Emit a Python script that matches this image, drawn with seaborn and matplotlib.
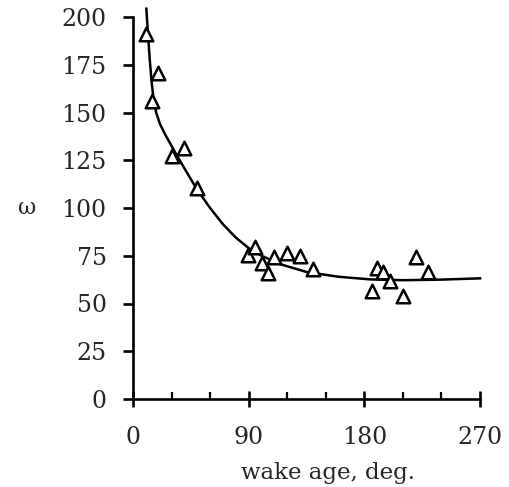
import matplotlib
matplotlib.use("Agg")
import matplotlib.pyplot as plt
import seaborn as sns
import pandas as pd
from matplotlib.ticker import MultipleLocator

# measured data points (wake age in deg, omega)
wake_age = [10.3, 14.5, 19.7, 30, 39.5, 49.5, 89.8, 95, 100, 105.3, 110, 120, 130,
            140.3, 185.7, 189.6, 194.8, 200, 209.9, 220.2, 229.8]
omega = [191, 156, 170.5, 127, 131.3, 110.5, 75.4, 79.7, 71.4, 66.1, 74.5, 76.6, 74.9,
         68, 56.5, 68.4, 66.7, 61.8, 53.9, 74.5, 66.3]

# trend curve
curve_x = [10.3, 11.5, 13, 14.5, 16, 18, 21, 25, 30, 35, 42, 50, 60, 70, 80, 90,
           100, 115, 135, 160, 185, 210, 240, 271]
curve_y = [205, 193, 178, 166, 157, 150, 144, 138.5, 132.5, 126.5, 118.5, 109.5, 100,
           91.5, 84.5, 79, 75, 70.5, 66.5, 64, 62.6, 62.2, 62.5, 63.2]

x_ticks = [0, 90, 180, 270]
y_ticks = [0, 25, 50, 75, 100, 125, 150, 175, 200]

sns.set_theme(style="white")
plt.rcParams['font.family'] = ['DejaVu Serif']

pts = pd.DataFrame({"x": wake_age, "y": omega})
crv = pd.DataFrame({"x": curve_x, "y": curve_y})

fig = plt.figure(figsize=(5.10, 4.87), dpi=100)
ax = fig.add_axes([133/510, 88/487, 347/510, 382/487])

sns.lineplot(data=crv, x="x", y="y", ax=ax, color="black", linewidth=1.8,
             estimator=None, sort=False)
for l in ax.lines:
    l.set_clip_on(False)
    l.set_solid_capstyle("butt")
sns.scatterplot(data=pts, x="x", y="y", ax=ax, marker="^", s=95,
                facecolor="white", edgecolor="black", linewidth=1.8, zorder=3)

ax.set_xlim(0, 270)
ax.set_ylim(0, 200)
ax.set_xticks(x_ticks)
ax.set_yticks(y_ticks)
ax.xaxis.set_minor_locator(MultipleLocator(30))

for s in ["top", "right"]:
    ax.spines[s].set_visible(False)
for s in ["left", "bottom"]:
    ax.spines[s].set_color("black")
    ax.spines[s].set_linewidth(1.9)

ax.tick_params(axis="x", which="major", direction="inout", length=11, width=1.9,
               color="black", labelsize=17, pad=14, bottom=True)
ax.tick_params(axis="x", which="minor", direction="in", length=5, width=1.6,
               color="black", bottom=True)
ax.tick_params(axis="y", which="major", direction="out", length=7, width=1.9,
               color="black", labelsize=17, pad=12, left=True)

ax.set_xlabel("wake age, deg.", fontsize=16.5)
ax.xaxis.set_label_coords(0.562, -0.164)
ax.set_ylabel("ω", fontsize=16, rotation=0, ha="center", va="center")
ax.yaxis.set_label_coords(-0.305, 0.5)

fig.savefig("out.png", dpi=100)
